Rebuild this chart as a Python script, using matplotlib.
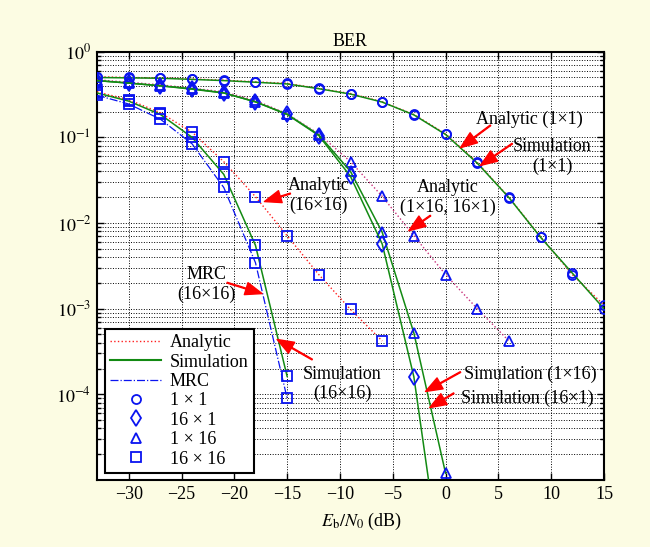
import matplotlib
matplotlib.use('Agg')
import matplotlib.pyplot as plt
from matplotlib.lines import Line2D
from matplotlib.ticker import LogLocator, NullFormatter, NullLocator

plt.rcParams['font.family'] = ['Liberation Serif', 'DejaVu Serif']
plt.rcParams['mathtext.fontset'] = 'stix'

# ---------------- data ----------------
ebn0 = [-33, -30, -27, -24, -21, -18, -15, -12, -9, -6, -3, 0, 3, 6, 9, 12, 15]

ber_ana_1x1 = [0.51, 0.50, 0.495, 0.48, 0.466, 0.445, 0.427, 0.372, 0.325, 0.26,
               0.185, 0.11, 0.051, 0.020, 0.0069, 0.0025, 0.0011]
ber_sim_1x1 = [0.50, 0.495, 0.49, 0.475, 0.46, 0.44, 0.42, 0.37, 0.32, 0.258,
               0.183, 0.108, 0.050, 0.0198, 0.0068, 0.0026, 0.0010]

ber_ana_1x16 = [0.47, 0.44, 0.41, 0.375, 0.34, 0.27, 0.188, 0.11, 0.052, 0.0205,
                0.0071, 0.0025, 0.0010, 0.00042]
ber_sim_1x16 = [0.46, 0.43, 0.40, 0.37, 0.33, 0.26, 0.186, 0.107, 0.040, 0.0078,
                0.00052, 1.2e-5]
ber_sim_16x1 = [0.46, 0.43, 0.40, 0.365, 0.33, 0.26, 0.185, 0.105, 0.035, 0.0057,
                0.00016, 4e-7]

ber_ana_16x16 = [0.34, 0.275, 0.194, 0.115, 0.052, 0.0203, 0.0071, 0.0025, 0.00098, 0.00042]
ber_sim_16x16 = [0.33, 0.265, 0.185, 0.10, 0.037, 0.0055, 0.000162]
ber_mrc_16x16 = [0.31, 0.245, 0.163, 0.084, 0.026, 0.00345, 9.0e-5]

legend_labels = ['Analytic', 'Simulation', 'MRC', '1 \u00d7 1', '16 \u00d7 1', '1 \u00d7 16', '16 \u00d7 16']
xtick_vals = [-30, -25, -20, -15, -10, -5, 0, 5, 10, 15]
ytick_vals = [1e-4, 1e-3, 1e-2, 1e-1, 1e0]
ytick_labels = [r'$10^{-4}$', r'$10^{-3}$', r'$10^{-2}$', r'$10^{-1}$', r'$10^{0}$']

# ---------------- styles ----------------
RED = '#ff2020'
RED2 = '#c8307a'
GREEN = '#138a13'
BLUE = '#0a14f0'
mk = dict(mec=BLUE, mfc='none', mew=1.3, ms=6.5)
mk_d = dict(mec=BLUE, mfc='none', mew=1.3, ms=8.5)

fig = plt.figure(figsize=(6.5, 5.47), dpi=100)
fig.patch.set_facecolor('#fcfce3')
ax = fig.add_axes([97 / 650, 1 - 480 / 547, 507 / 650, (480 - 51.7) / 547])
ax.set_facecolor('white')

def n(arr):
    return ebn0[:len(arr)]

# analytic curves
ax.plot(n(ber_ana_1x1), ber_ana_1x1, ls=':', color=RED, lw=1.0, marker='o', **mk, zorder=3)
ax.plot(n(ber_ana_1x16), ber_ana_1x16, ls=':', color=RED2, lw=1.0, marker='^', **mk, zorder=3)
ax.plot(n(ber_ana_16x16), ber_ana_16x16, ls=':', color=RED, lw=1.0, marker='s', **mk, zorder=3)
# simulation curves
ax.plot(n(ber_sim_1x1), ber_sim_1x1, ls='-', color=GREEN, lw=1.1, marker='o', **mk, zorder=3)
ax.plot(n(ber_sim_1x16), ber_sim_1x16, ls='-', color=GREEN, lw=1.1, marker='^', **mk, zorder=3)
ax.plot(n(ber_sim_16x1), ber_sim_16x1, ls='-', color=GREEN, lw=1.1, marker='d', **mk_d, zorder=3)
ax.plot(n(ber_sim_16x16), ber_sim_16x16, ls='-', color=GREEN, lw=1.1, marker='s', **mk, zorder=3)
# MRC
ax.plot(n(ber_mrc_16x16), ber_mrc_16x16, ls='-.', color=BLUE, lw=0.9, marker='s', **mk, zorder=3)

ax.set_yscale('log')
ax.set_xlim(-33, 15)
ax.set_ylim(1e-5, 1)

ax.set_xticks(xtick_vals)
ax.set_xticklabels([f'{v}'.replace('-', '\u2212') for v in xtick_vals])
ax.xaxis.set_minor_locator(NullLocator())
ax.set_yticks(ytick_vals)
ax.set_yticklabels(ytick_labels)
ax.yaxis.set_minor_locator(LogLocator(base=10, subs=range(2, 10), numticks=20))
ax.yaxis.set_minor_formatter(NullFormatter())

ax.tick_params(which='both', direction='in', top=True, right=True, labelsize=13, width=1.0)
ax.tick_params(which='major', length=5, pad=4)
ax.tick_params(which='minor', length=3)

ax.grid(True, which='major', axis='both', ls=':', color='black', lw=0.7)
ax.grid(True, which='minor', axis='y', ls=':', color='black', lw=0.7)
ax.set_axisbelow(True)

for s in ax.spines.values():
    s.set_linewidth(1.5)

ax.set_title('BER', fontsize=13, pad=4)
ax.set_xlabel(r'$E_\mathrm{b}/N_0$ (dB)', fontsize=13)
ax.xaxis.set_label_coords(0.522, -0.072)

# ---------------- annotations ----------------
aprops = dict(facecolor='red', edgecolor='red', width=0.6, headwidth=9, headlength=12, shrink=0)
ann = [
    ('Analytic (1\u00d71)', (7.94, 0.161), (4.25, 0.138), (1.41, 0.0757)),
    ('Simulation\n(1\u00d71)', (10.13, 0.060), (6.31, 0.0844), (3.30, 0.047)),
    ('Analytic\n(1\u00d716, 16\u00d71)', (0.23, 0.01995), (-1.43, 0.0122), (-3.48, 0.00813)),
    ('Analytic\n(16\u00d716)', (-12.04, 0.0212), (-14.69, 0.0221), (-17.15, 0.0178)),
    ('MRC\n(16\u00d716)', (-22.63, 0.00191), (-20.68, 0.00201), (-17.37, 0.0015)),
    ('Simulation\n(16\u00d716)', (-9.76, 1.32e-4), (-12.63, 2.55e-4), (-15.95, 4.37e-4)),
    ('Simulation (1\u00d716)', (8.04, 1.73e-4), (1.41, 1.82e-4), (-1.90, 1.08e-4)),
    ('Simulation (16\u00d71)', (7.71, 9.0e-5), (0.78, 1.03e-4), (-1.50, 7.0e-5)),
]
for txt, tpos, start, tip in ann:
    ax.text(tpos[0], tpos[1], txt, fontsize=13, ha='center', va='center',
            multialignment='center', zorder=6)
    ax.annotate('', xy=tip, xytext=start, arrowprops=aprops, zorder=7)

# ---------------- legend ----------------
handles = [
    Line2D([], [], ls=':', color=RED, lw=1.0),
    Line2D([], [], ls='-', color=GREEN, lw=1.5),
    Line2D([], [], ls='-.', color=BLUE, lw=0.9),
    Line2D([], [], ls='none', marker='o', mec=BLUE, mfc='none', mew=1.3, ms=6.5),
    Line2D([], [], ls='none', marker='d', mec=BLUE, mfc='none', mew=1.3, ms=8.5),
    Line2D([], [], ls='none', marker='^', mec=BLUE, mfc='none', mew=1.3, ms=6.5),
    Line2D([], [], ls='none', marker='s', mec=BLUE, mfc='none', mew=1.3, ms=6.5),
]
leg = ax.legend(handles, legend_labels, loc='upper left',
                bbox_to_anchor=((105 - 97) / 507, 1 - (329 - 51.7) / 428.3),
                borderaxespad=0, fontsize=13, frameon=True, fancybox=False,
                edgecolor='black', framealpha=1, handlelength=2.8, handletextpad=0.5,
                labelspacing=0.13, borderpad=0.3, numpoints=1)
leg.get_frame().set_linewidth(1.5)
leg.set_zorder(8)

fig.savefig('out.png', dpi=100, facecolor=fig.get_facecolor())
